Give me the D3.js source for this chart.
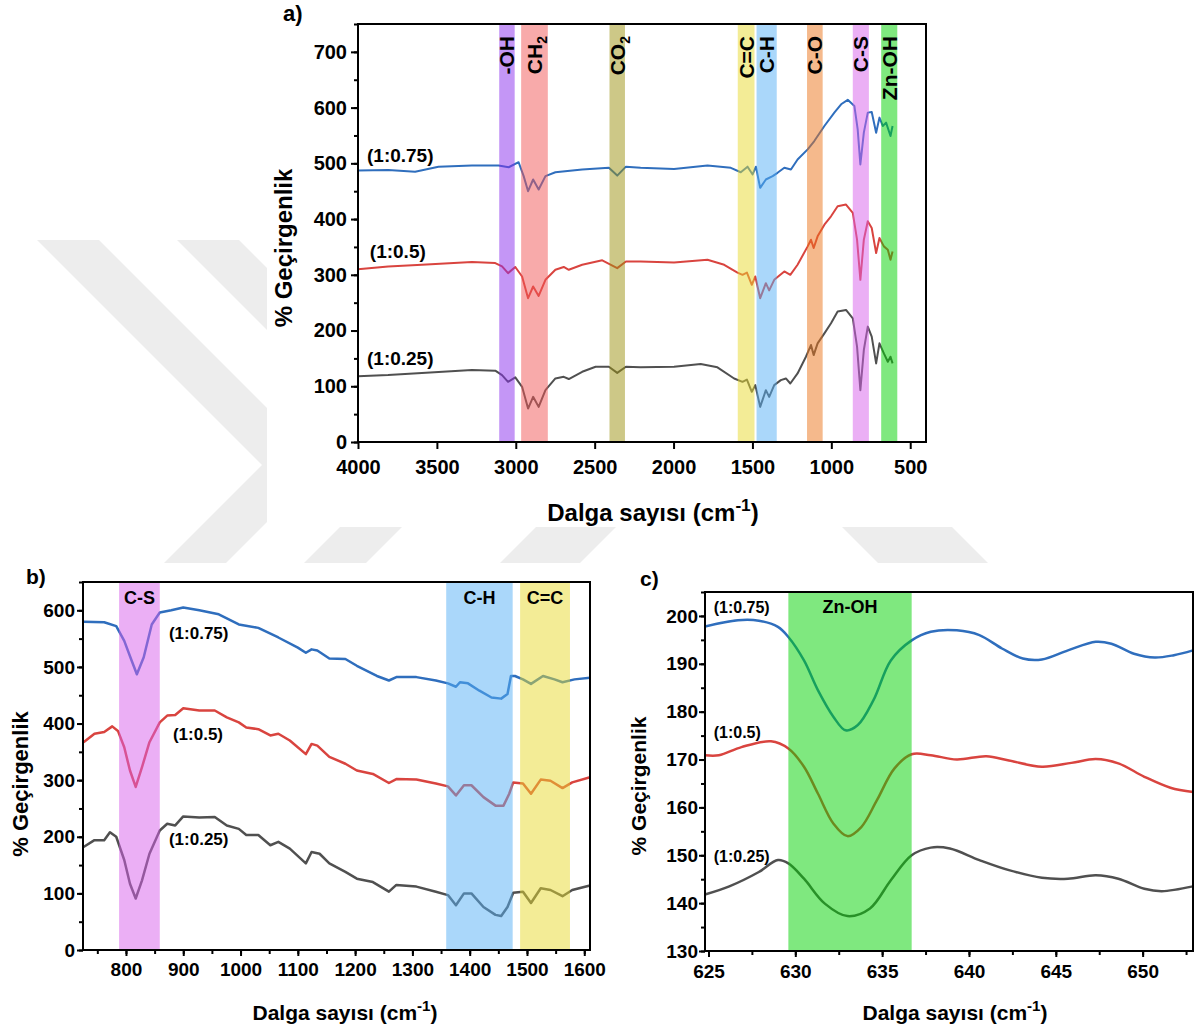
<!DOCTYPE html>
<html>
<head>
<meta charset="utf-8">
<script src="https://cdn.jsdelivr.net/npm/d3@7"></script>
<style>
  body { margin: 0; background: #fff; }
  svg text { font-family: Arial, 'Liberation Sans', sans-serif; font-weight: bold; }
</style>
</head>
<body>
<svg id="fig" width="1195" height="1027"></svg>
<script>
'use strict';

// ---------- data ----------
const seriesNames = ['(1:0.75)', '(1:0.5)', '(1:0.25)'];

// a) full FTIR spectra  [wavenumber, % transmittance]
const specA075 = [
  [4000, 487], [3808, 488], [3638, 485], [3490, 494], [3278, 496], [3109, 496], [3045, 493],
  [2982, 502], [2950, 477], [2922, 450], [2890, 471], [2855, 453], [2812, 477], [2749, 484],
  [2579, 489], [2410, 492], [2357, 478], [2302, 494], [2209, 492], [1997, 490], [1785, 496],
  [1637, 492], [1574, 484], [1531, 494], [1499, 480], [1478, 494], [1451, 456], [1415, 471],
  [1372, 477], [1341, 483], [1298, 492], [1256, 489], [1214, 507], [1150, 525], [1108, 540],
  [1044, 567], [981, 591], [938, 606], [896, 614], [854, 603], [833, 561], [816, 498],
  [794, 555], [769, 591], [744, 592], [716, 555], [695, 582], [674, 567], [653, 573],
  [625, 549], [612, 567]
];
const specA050 = [
  [4000, 310], [3809, 315], [3595, 318], [3278, 323], [3130, 321], [3087, 315], [3049, 303],
  [3003, 314], [2960, 297], [2922, 258], [2890, 279], [2855, 262], [2812, 291], [2749, 309],
  [2696, 314], [2664, 309], [2579, 318], [2452, 326], [2357, 312], [2302, 324], [2209, 324],
  [1997, 322], [1785, 327], [1679, 318], [1595, 304], [1563, 300], [1535, 304], [1504, 282],
  [1482, 297], [1451, 258], [1415, 285], [1394, 272], [1362, 291], [1298, 306], [1260, 300],
  [1214, 318], [1150, 351], [1129, 363], [1112, 348], [1087, 369], [1044, 390], [1002, 405],
  [960, 423], [907, 426], [864, 411], [837, 363], [816, 291], [794, 363], [769, 396],
  [744, 384], [716, 339], [695, 366], [667, 351], [642, 345], [625, 327], [612, 342]
];
const specA025 = [
  [4000, 118], [3809, 120], [3595, 124], [3278, 129], [3130, 128], [3087, 120], [3049, 108],
  [3003, 116], [2960, 99], [2922, 60], [2890, 81], [2855, 63], [2812, 93], [2749, 114],
  [2696, 117], [2664, 113], [2579, 126], [2494, 135], [2410, 135], [2357, 124], [2302, 135],
  [2209, 134], [1997, 135], [1828, 140], [1722, 134], [1616, 114], [1563, 108], [1535, 112],
  [1504, 90], [1482, 102], [1451, 63], [1415, 93], [1394, 81], [1362, 102], [1320, 111],
  [1288, 114], [1260, 105], [1214, 123], [1161, 153], [1129, 174], [1112, 156], [1087, 177],
  [1044, 195], [1002, 213], [960, 234], [907, 237], [864, 222], [837, 171], [816, 93],
  [794, 165], [769, 207], [744, 189], [716, 141], [695, 177], [667, 159], [642, 144],
  [625, 153], [612, 141]
];
const bandNamesA = ['-OH', 'CH2', 'CO2', 'C=C', 'C-H', 'C-O', 'C-S', 'Zn-OH'];
const bandRangesA = [
  [3105, 3007], [2966, 2797], [2406, 2308], [1593, 1487],
  [1474, 1346], [1154, 1055], [864, 762], [684, 582]
];
const ticksAx = [4000, 3500, 3000, 2500, 2000, 1500, 1000, 500];
const ticksAy = [0, 100, 200, 300, 400, 500, 600, 700];
// label anchor points [wavenumber, value]
const seriesLabelPosA = [[3943, 502], [3925, 330], [3943, 138]];

// b) 725-1610 cm-1 zoom
const specB075 = [
  [726, 580], [762, 579], [783, 572], [797, 546], [810, 511], [819, 487], [831, 517],
  [845, 575], [859, 596], [879, 600], [900, 605], [928, 600], [962, 593], [997, 575],
  [1031, 569], [1066, 552], [1100, 534], [1114, 525], [1124, 531], [1134, 529], [1155, 515],
  [1183, 514], [1203, 502], [1238, 484], [1259, 476], [1272, 482], [1307, 482], [1341, 476],
  [1362, 471], [1376, 465], [1383, 473], [1397, 471], [1417, 458], [1438, 446], [1455, 444],
  [1466, 452], [1472, 484], [1479, 484], [1493, 478], [1507, 470], [1528, 484], [1548, 478],
  [1562, 473], [1583, 478], [1610, 481]
];
const specB050 = [
  [726, 367], [745, 382], [762, 385], [776, 395], [786, 387], [797, 358], [807, 317],
  [817, 288], [828, 323], [841, 367], [859, 402], [872, 414], [886, 415], [900, 427],
  [928, 423], [955, 423], [976, 411], [997, 402], [1010, 393], [1031, 390], [1052, 379],
  [1066, 382], [1086, 370], [1114, 346], [1124, 364], [1134, 361], [1155, 341], [1183, 329],
  [1203, 317], [1231, 311], [1259, 295], [1272, 302], [1307, 301], [1341, 294], [1362, 289],
  [1376, 273], [1390, 291], [1403, 291], [1424, 270], [1445, 255], [1459, 255], [1469, 276],
  [1476, 296], [1493, 294], [1507, 276], [1524, 301], [1541, 299], [1562, 286], [1579, 296],
  [1610, 305]
];
const specB025 = [
  [726, 182], [745, 194], [762, 194], [772, 208], [783, 200], [797, 159], [807, 117],
  [817, 91], [828, 123], [841, 170], [859, 211], [872, 223], [886, 220], [900, 236],
  [928, 234], [955, 235], [976, 220], [997, 214], [1010, 203], [1031, 203], [1052, 185],
  [1066, 191], [1086, 179], [1114, 153], [1124, 173], [1138, 170], [1155, 153], [1183, 138],
  [1203, 126], [1231, 120], [1259, 103], [1272, 115], [1307, 112], [1341, 103], [1362, 97],
  [1376, 79], [1390, 100], [1403, 100], [1424, 76], [1445, 62], [1455, 60], [1466, 76],
  [1476, 101], [1493, 103], [1507, 83], [1524, 109], [1541, 106], [1562, 95], [1579, 106],
  [1610, 114]
];
const bandNamesB = ['C-S', 'C-H', 'C=C'];
const bandRangesB = [[788, 859], [1359, 1475], [1488, 1575]];
const ticksBx = [800, 900, 1000, 1100, 1200, 1300, 1400, 1500, 1600];
const ticksBy = [0, 100, 200, 300, 400, 500, 600];
const seriesLabelPosB = [[875, 549], [882, 371], [875, 185]];
const bandLabelValB = 612;

// c) Zn-OH region
const specC075 = [
  [624.8, 197.8], [626.7, 199.1], [627.9, 199.0], [629.0, 197.7], [629.6, 195.6],
  [630.5, 190.7], [631.3, 184.5], [632.2, 178.9], [632.9, 176.1], [633.6, 177.2],
  [634.5, 182.4], [635.5, 190.7], [636.7, 194.9], [637.8, 196.7], [639.3, 197.0],
  [640.6, 196.0], [641.9, 193.2], [643.1, 191.1], [644.2, 190.9], [645.7, 192.8],
  [647.3, 194.6], [648.2, 194.2], [649.5, 192.1], [650.7, 191.3], [651.8, 191.8],
  [652.9, 192.8]
];
const specC050 = [
  [624.8, 170.9], [625.6, 170.9], [626.9, 172.6], [628.6, 173.8], [629.6, 172.3],
  [630.5, 168.5], [631.3, 162.9], [632.2, 156.6], [633.0, 154.0], [633.8, 155.9],
  [634.7, 161.5], [635.7, 168.1], [636.7, 171.1], [637.8, 170.9], [639.3, 170.0],
  [641.0, 170.7], [642.3, 169.8], [644.2, 168.5], [645.9, 169.3], [647.3, 170.1],
  [648.6, 169.2], [650.1, 166.4], [651.6, 164.1], [652.9, 163.2]
];
const specC025 = [
  [624.8, 141.8], [626.2, 143.5], [627.9, 146.5], [629.0, 149.0], [629.6, 148.3],
  [630.5, 145.1], [631.7, 139.9], [633.0, 137.3], [634.3, 138.9], [635.5, 144.8],
  [636.7, 150.0], [637.8, 151.6], [638.9, 151.4], [640.6, 149.0], [642.3, 146.9],
  [644.2, 145.3], [645.7, 145.1], [647.3, 145.8], [648.6, 145.1], [650.1, 143.0],
  [651.1, 142.5], [652.9, 143.5]
];
const bandNamesC = ['Zn-OH'];
const bandRangesC = [[629.6, 636.7]];
const ticksCx = [625, 630, 635, 640, 645, 650];
const ticksCy = [130, 140, 150, 160, 170, 180, 190, 200];
const seriesLabelPosC = [[625.3, 200.6], [625.3, 174.4], [625.3, 148.6]];
const bandLabelValC = 200.6;

// ---------- styles ----------
const lineColors = ['#2f6ebd', '#d9443f', '#505050'];
const bandColors = {
  '-OH': '#8a2dee', 'CH2': '#f15555', 'CO2': '#9b910f', 'C=C': '#e7d92d',
  'C-H': '#55aff5', 'C-O': '#eb7319', 'C-S': '#d75feb', 'Zn-OH': '#00d100'
};
const font = "Arial, 'Liberation Sans', sans-serif";

const svg = d3.select('#fig');

// faint thesis watermark behind the panel images
function chevron(xi, w) {
  return [[xi - 225, 240], [xi - 225 + w, 240], [xi + w, 465],
          [xi - 225 + w, 690], [xi - 225, 690], [xi, 465]];
}
const wm = svg.append('g').attr('fill', '#ededed');
[[262, 62], [402, 62], [598, 80]].forEach(([xi, w]) => {
  wm.append('polygon').attr('points', chevron(xi, w).join(' '));
});
wm.append('polygon').attr('points', [[815, 500], [925, 500], [990, 565], [880, 565]].join(' '));
svg.append('rect').attr('x', 267).attr('y', 0).attr('width', 928).attr('height', 527).attr('fill', '#fff');
svg.append('rect').attr('x', 0).attr('y', 563).attr('width', 1195).attr('height', 464).attr('fill', '#fff');

// label text with chemical subscripts (CH2, CO2)
function chemText(sel, name, subSize) {
  const m = name.match(/^(C[HO])2$/);
  if (m) {
    sel.append('tspan').text(m[1]);
    sel.append('tspan').attr('dy', subSize * 0.35).attr('font-size', subSize).text('2');
  } else {
    sel.text(name);
  }
}

function panel(o) {
  const {l, r, t, b} = o.box;
  const x = d3.scaleLinear().domain(o.xDom).range([l, r]);
  const y = d3.scaleLinear().domain(o.yDom).range([b, t]);
  const g = svg.append('g');

  // spectra
  const line = d3.line().x(d => x(d[0])).y(d => y(d[1])).curve(o.curve || d3.curveLinear);
  o.series.forEach((s, i) => {
    g.append('path')
      .datum(s)
      .attr('fill', 'none')
      .attr('stroke', lineColors[i])
      .attr('stroke-width', o.lw)
      .attr('stroke-linejoin', 'round')
      .attr('d', line);
  });

  // highlighted bands (semi transparent, on top of the lines)
  o.bands.forEach((rg, i) => {
    const x0 = Math.min(x(rg[0]), x(rg[1]));
    const x1 = Math.max(x(rg[0]), x(rg[1]));
    g.append('rect')
      .attr('x', x0).attr('y', t)
      .attr('width', x1 - x0).attr('height', b - t)
      .attr('fill', bandColors[o.bandNames[i]])
      .attr('fill-opacity', 0.5);
  });

  // frame
  g.append('rect')
    .attr('x', l).attr('y', t).attr('width', r - l).attr('height', b - t)
    .attr('fill', 'none').attr('stroke', '#000').attr('stroke-width', 2);

  // axes: major + minor ticks
  const xMinor = d3.range(o.xTicks[0] - o.xMinor, o.xTicks[o.xTicks.length - 1] + o.xMinor * 1.01, o.xMinor)
    .filter(v => v >= Math.min(...o.xDom) && v <= Math.max(...o.xDom));
  const yMinor = d3.range(o.yDom[0], o.yDom[1] + 0.01, o.yMinor);

  const styleAxis = (a) => {
    a.select('.domain').remove();
    a.attr('font-size', o.fs).attr('font-family', font).attr('font-weight', 'bold');
    a.selectAll('line').attr('stroke-width', 2);
    a.selectAll('text').attr('fill', '#000');
  };

  g.append('g').attr('transform', `translate(0,${b})`)
    .call(d3.axisBottom(x).tickValues(xMinor).tickSize(o.minorLen).tickFormat(''))
    .call(styleAxis);
  g.append('g').attr('transform', `translate(${l},0)`)
    .call(d3.axisLeft(y).tickValues(yMinor).tickSize(o.minorLen).tickFormat(''))
    .call(styleAxis);
  g.append('g').attr('transform', `translate(0,${b})`)
    .call(d3.axisBottom(x).tickValues(o.xTicks).tickSize(o.tickLen).tickPadding(o.xPad).tickFormat(d3.format('d')))
    .call(styleAxis);
  g.append('g').attr('transform', `translate(${l},0)`)
    .call(d3.axisLeft(y).tickValues(o.yTicks).tickSize(o.tickLen).tickPadding(o.yPad).tickFormat(d3.format('d')))
    .call(styleAxis);

  // axis titles
  const xt = g.append('text')
    .attr('x', o.xTitle[0]).attr('y', o.xTitle[1])
    .attr('text-anchor', 'middle').attr('font-size', o.titleFs);
  xt.append('tspan').text('Dalga sayısı (cm');
  xt.append('tspan').attr('dy', -o.titleFs * 0.42).attr('font-size', o.titleFs * 0.72).text('-1');
  xt.append('tspan').attr('dy', o.titleFs * 0.42).text(')');

  g.append('text')
    .attr('transform', `translate(${o.yTitle[0]},${o.yTitle[1]}) rotate(-90)`)
    .attr('text-anchor', 'middle').attr('font-size', o.yTitleFs || o.titleFs)
    .text('% Geçirgenlik');

  // panel letter
  g.append('text').attr('x', o.letter[0]).attr('y', o.letter[1])
    .attr('font-size', o.letterFs).text(o.id + ')');

  // series labels
  o.seriesPos.forEach((p, i) => {
    g.append('text').attr('x', x(p[0])).attr('y', y(p[1]))
      .attr('font-size', o.seriesFs).text(seriesNames[i]);
  });

  return {g, x, y};
}

// ---------- a) ----------
const pa = panel({
  id: 'a', box: {l: 358, r: 926, t: 24, b: 442},
  xDom: [4000, 400], yDom: [0, 750],
  xTicks: ticksAx, yTicks: ticksAy, xMinor: 250, yMinor: 50,
  series: [specA075, specA050, specA025], lw: 2,
  bands: bandRangesA, bandNames: bandNamesA,
  fs: 20, tickLen: 7, minorLen: 4, xPad: 11, yPad: 4,
  titleFs: 24, xTitle: [653, 521], yTitle: [292, 248],
  letter: [283, 21], letterFs: 22,
  seriesPos: seriesLabelPosA, seriesFs: 19
});
bandNamesA.forEach((name, i) => {
  const cx = pa.x((bandRangesA[i][0] + bandRangesA[i][1]) / 2);
  const txt = pa.g.append('text')
    .attr('transform', `translate(${cx + 7.5},36) rotate(-90)`)
    .attr('text-anchor', 'end').attr('font-size', 21);
  chemText(txt, name, 14);
});

// ---------- b) ----------
const pb = panel({
  id: 'b', box: {l: 83, r: 590, t: 582, b: 950},
  xDom: [725, 1610], yDom: [0, 650],
  xTicks: ticksBx, yTicks: ticksBy, xMinor: 50, yMinor: 50,
  series: [specB075, specB050, specB025], lw: 2.5,
  bands: bandRangesB, bandNames: bandNamesB,
  fs: 19, tickLen: 6, minorLen: 4, xPad: 7, yPad: 2,
  titleFs: 21, yTitleFs: 22, xTitle: [345, 1020], yTitle: [28, 784],
  letter: [26, 584], letterFs: 21,
  seriesPos: seriesLabelPosB, seriesFs: 17
});
bandNamesB.forEach((name, i) => {
  pb.g.append('text')
    .attr('x', pb.x((bandRangesB[i][0] + bandRangesB[i][1]) / 2))
    .attr('y', pb.y(bandLabelValB))
    .attr('text-anchor', 'middle').attr('font-size', 18).text(name);
});

// ---------- c) ----------
const pc = panel({
  id: 'c', box: {l: 705, r: 1193, t: 592, b: 951},
  xDom: [624.8, 652.9], yDom: [130, 205],
  xTicks: ticksCx, yTicks: ticksCy, xMinor: 2.5, yMinor: 5,
  series: [specC075, specC050, specC025], lw: 2.5, curve: d3.curveCatmullRom,
  bands: bandRangesC, bandNames: bandNamesC,
  fs: 19, tickLen: 6, minorLen: 4, xPad: 8, yPad: 1,
  titleFs: 21, xTitle: [955, 1020], yTitle: [646, 786],
  letter: [640, 586], letterFs: 21,
  seriesPos: seriesLabelPosC, seriesFs: 16
});
bandNamesC.forEach((name, i) => {
  pc.g.append('text')
    .attr('x', pc.x((bandRangesC[i][0] + bandRangesC[i][1]) / 2))
    .attr('y', pc.y(bandLabelValC))
    .attr('text-anchor', 'middle').attr('font-size', 18).text(name);
});
</script>
</body>
</html>
